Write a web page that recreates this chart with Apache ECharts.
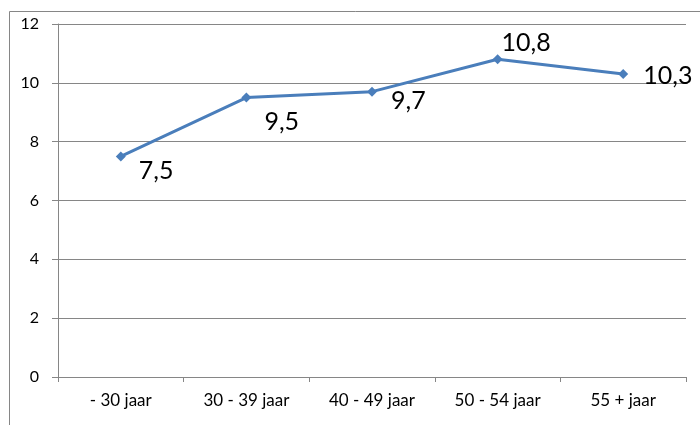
<!DOCTYPE html>
<html>
<head>
<meta charset="utf-8">
<script src="https://cdn.jsdelivr.net/npm/echarts@6/dist/echarts.min.js"></script>
<style>
html,body{margin:0;padding:0;background:#fff;}
#c{width:700px;height:425px;}
</style>
</head>
<body>
<div id="c"></div>
<script>
var categories = ['- 30 jaar', '30 - 39 jaar', '40 - 49 jaar', '50 - 54 jaar', '55 + jaar'];
var values = [7.5, 9.5, 9.7, 10.8, 10.3];
var yTicks = [0, 2, 4, 6, 8, 10, 12];

// label offsets (style only)
var labelOffsets = [[13, 15], [13, 24], [14, 9], [-1, -16], [15, 2]];

var chart = echarts.init(document.getElementById('c'), null, {renderer: 'canvas'});
var FONT = 'Lato';
var GRAY = '#868686';

var seriesData = values.map(function (v, i) {
  return {
    value: v,
    label: {offset: labelOffsets[i]}
  };
});

chart.setOption({
  animation: false,
  backgroundColor: '#ffffff',
  graphic: [{
    type: 'rect',
    shape: {x: 9.5, y: 11.5, width: 800, height: 500},
    style: {fill: 'none', stroke: GRAY, lineWidth: 1},
    silent: true,
    z: -1
  }],
  grid: {left: 58, top: 24, right: 14, bottom: 48, containLabel: false},
  xAxis: {
    type: 'category',
    data: categories,
    boundaryGap: true,
    axisLine: {show: true, lineStyle: {color: GRAY, width: 1}},
    axisTick: {show: true, alignWithLabel: false, length: 5, lineStyle: {color: GRAY}},
    axisLabel: {
      interval: 0, margin: 15,
      color: '#000', fontFamily: FONT, fontSize: 17
    },
    splitLine: {show: false}
  },
  yAxis: {
    type: 'value',
    min: yTicks[0], max: yTicks[yTicks.length - 1], interval: 2,
    axisLine: {show: true, lineStyle: {color: GRAY, width: 1}},
    axisTick: {show: true, inside: false, length: 6, lineStyle: {color: GRAY}},
    axisLabel: {
      margin: 19,
      color: '#000', fontFamily: FONT, fontSize: 16,
      formatter: function (v) { return String(v); }
    },
    splitLine: {show: true, lineStyle: {color: GRAY, width: 1}}
  },
  series: [{
    type: 'line',
    data: seriesData,
    symbol: 'diamond',
    symbolSize: 10,
    lineStyle: {color: '#4a7ebb', width: 3},
    itemStyle: {color: '#4a7ebb'},
    label: {
      show: true,
      position: 'right',
      distance: 0,
      color: '#000',
      fontFamily: FONT,
      fontSize: 25,
      formatter: function (p) { return String(p.value).replace('.', ','); }
    }
  }]
});
</script>
</body>
</html>
